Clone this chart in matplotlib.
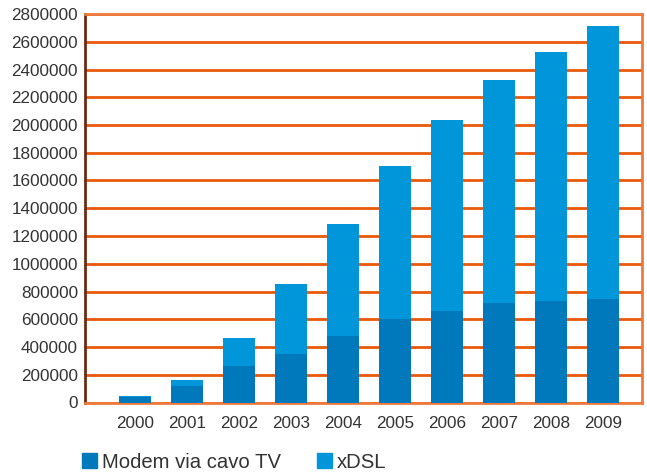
import matplotlib
matplotlib.use("Agg")
import matplotlib.pyplot as plt
from matplotlib.patches import Patch

years = ["2000", "2001", "2002", "2003", "2004", "2005", "2006", "2007", "2008", "2009"]
modem_cavo_tv = [40000, 119000, 263000, 350000, 479000, 602000, 659000, 717000, 731000, 746000]
totale = [47000, 162000, 465000, 854000, 1286000, 1705000, 2036000, 2324000, 2526000, 2714000]
xdsl = [t - m for t, m in zip(totale, modem_cavo_tv)]
y_ticks = list(range(0, 2800001, 200000))

dark = "#0079BC"
light = "#0096D9"
orange = "#E8590C"
text_col = "#333333"

plt.rcParams['font.family'] = ['Liberation Sans', 'DejaVu Sans']

fig = plt.figure(figsize=(6.47, 4.74), dpi=100)
ax = fig.add_axes([85/647, 1-402.5/474, (642-85)/647, (402.5-14)/474])

x = list(range(len(years)))
ax.bar(x, modem_cavo_tv, width=0.615, color=dark, zorder=3)
ax.bar(x, xdsl, bottom=modem_cavo_tv, width=0.615, color=light, zorder=3)

ax.set_xlim(-0.96, 9.75)
ax.set_ylim(0, 2800000)
ax.set_yticks(y_ticks)
ax.set_yticklabels([str(v) for v in y_ticks], fontsize=12.3, color=text_col)
ax.set_xticks(x)
ax.set_xticklabels(years, fontsize=12.3, color=text_col)
ax.tick_params(axis='both', length=0)
ax.tick_params(axis='x', pad=10)
ax.tick_params(axis='y', pad=5)
ax.yaxis.grid(True, color=orange, linewidth=2, zorder=1)
ax.set_axisbelow(True)

for side in ['top', 'right', 'bottom']:
    ax.spines[side].set_color("#EE7A3C")
    ax.spines[side].set_linewidth(2)
ax.spines['left'].set_color("#6B2A10")
ax.spines['left'].set_linewidth(2)

handles = [Patch(color=dark, label="Modem via cavo TV"), Patch(color=light, label="xDSL")]
fig.legend(handles=handles, loc='lower left', bbox_to_anchor=(80/647, 0.0), ncol=2,
           frameon=False, fontsize=14.6, handlelength=0.75, handleheight=0.75,
           handletextpad=0.25, columnspacing=1.75, labelcolor=text_col,
           borderpad=0.1, borderaxespad=0)

fig.savefig("out.png", dpi=100)
